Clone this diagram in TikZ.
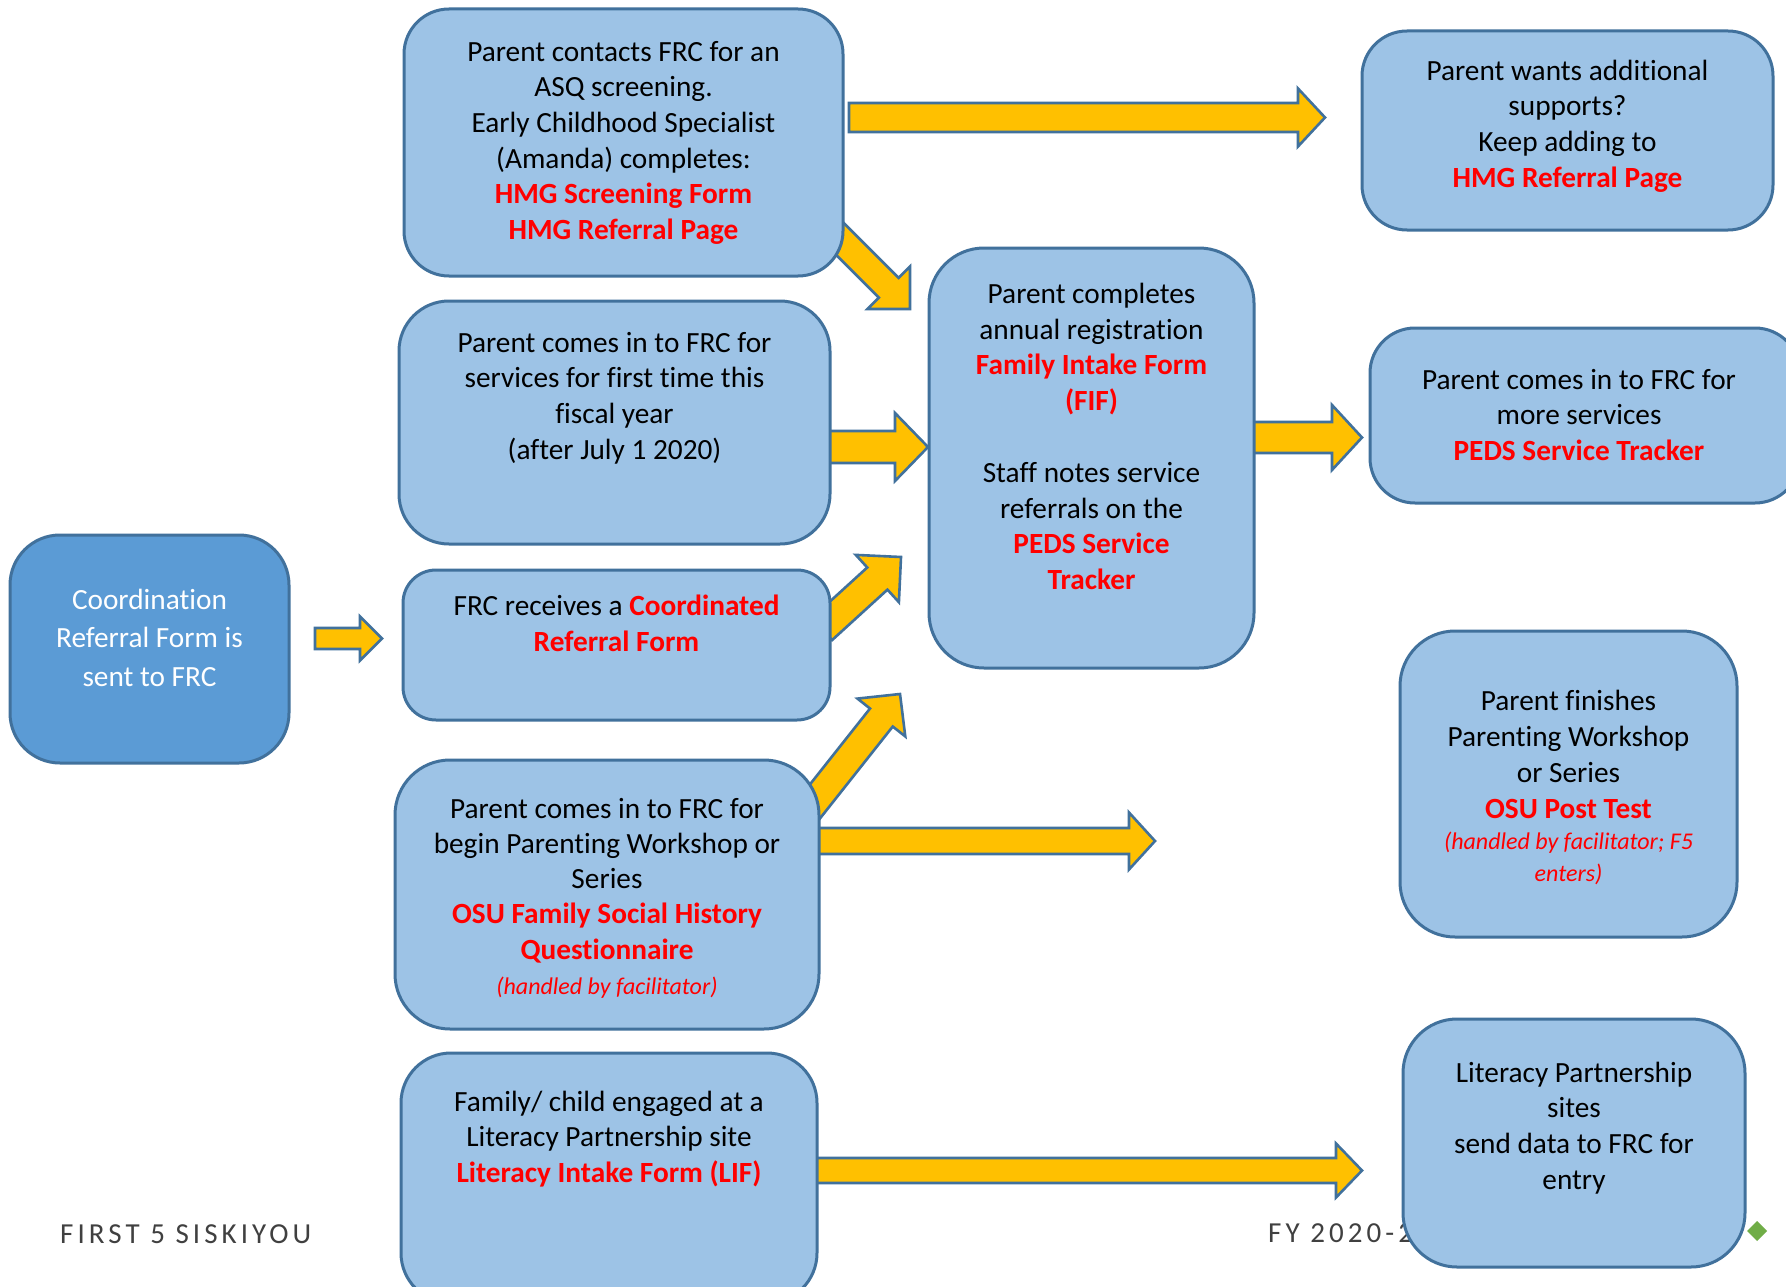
\documentclass[tikz,border=0pt]{standalone}
\usepackage{fontspec}
\setmainfont{Carlito}[Ligatures=NoCommon]
\usetikzlibrary{calc}
\definecolor{boxfill}{HTML}{9DC3E6}
\definecolor{boxdark}{HTML}{5B9BD5}
\definecolor{edgecol}{HTML}{41719C}
\definecolor{arrowfill}{HTML}{FFC000}
\definecolor{redtxt}{HTML}{FF0000}
\definecolor{footcol}{HTML}{404040}
\definecolor{diamcol}{HTML}{70AD47}
\newcommand\rd[1]{\textcolor{redtxt}{\bfseries #1}}
\newcommand\ri[1]{{\fontsize{24}{30}\selectfont\itshape\color{redtxt}#1}}
\newcommand\fst{\rule{0pt}{26pt}}
% block arrow: start, end, body half width, head half width, head length
\newcommand\barrow[5]{%
  \coordinate (hb) at ($(#2)!#5!(#1)$);
  \draw[yarrow] ($(#1)!#3!90:(#2)$) -- ($(hb)!#3!90:(#2)$) -- ($(hb)!#4!90:(#2)$)
    -- (#2) -- ($(hb)!#4!-90:(#2)$) -- ($(hb)!#3!-90:(#2)$) -- ($(#1)!#3!-90:(#2)$) -- cycle;
}
\tikzset{
  boxstyle/.style={draw=edgecol, fill=boxfill, line width=3pt, inner sep=0pt},
  darkbox/.style={draw=edgecol, fill=boxdark, line width=3pt, inner sep=0pt},
  yarrow/.style={draw=edgecol, fill=arrowfill, line width=2.6pt, line join=miter},
  txt/.style={anchor=north, align=center, inner sep=0pt, font=\fontsize{29.3}{35.6}\selectfont},
  foottxt/.style={anchor=base west, inner sep=0pt, text=footcol,
    font=\fontsize{29}{35}\selectfont\addfontfeatures{LetterSpace=14}}
}
\begin{document}
\begin{tikzpicture}[x=1pt,y=-1pt]
\clip (0,0) rectangle (1786,1287);
\fill[white] (0,0) rectangle (1786,1287);

% footer
\node[foottxt] (foot1) at (60,1243) {FIRST 5 SISKIYOU};
\node[foottxt] (foot2) at (1268,1242) {FY 2020-21};

% arrow end points
\coordinate (a1s) at (849,117.5);  \coordinate (a1e) at (1325,117.5);
\coordinate (a2s) at (830,229);    \coordinate (a2e) at (910,309);
\coordinate (a3s) at (825,447);    \coordinate (a3e) at (928,447);
\coordinate (a4s) at (822,629);    \coordinate (a4e) at (901,557);
\coordinate (a5s) at (315,638.5);  \coordinate (a5e) at (382,638.5);
\coordinate (a6s) at (805,814);    \coordinate (a6e) at (900,694);
\coordinate (a7s) at (815,841);    \coordinate (a7e) at (1155,841);
\coordinate (a8s) at (1247,437.5); \coordinate (a8e) at (1362,437.5);
\coordinate (a9s) at (812,1170.5); \coordinate (a9e) at (1362,1170.5);

\barrow{a1s}{a1e}{14.5pt}{29pt}{27pt}
\barrow{a2s}{a2e}{14pt}{30pt}{30pt}
\barrow{a3s}{a3e}{16pt}{34pt}{33pt}
\barrow{a4s}{a4e}{15pt}{32pt}{32pt}
\barrow{a5s}{a5e}{10.5pt}{22pt}{22pt}
\barrow{a6s}{a6e}{14.5pt}{30.5pt}{30pt}
\barrow{a7s}{a7e}{13pt}{28.5pt}{26pt}
\barrow{a8s}{a8e}{15.5pt}{32.5pt}{30pt}
\barrow{a9s}{a9e}{12.5pt}{27pt}{26pt}

% boxes
\node[boxstyle, minimum width=439pt, minimum height=267pt, rounded corners=45pt] (A) at (623.5,142.5) {};
\node[boxstyle, minimum width=431pt, minimum height=243pt, rounded corners=50pt] (B) at (614.5,422.5) {};
\node[boxstyle, minimum width=427pt, minimum height=150pt, rounded corners=33pt] (C) at (616.5,645) {};
\node[boxstyle, minimum width=424pt, minimum height=269pt, rounded corners=55pt] (D) at (607,894.5) {};
\node[boxstyle, minimum width=416pt, minimum height=250pt, rounded corners=50pt] (E) at (609,1178) {};
\node[darkbox, minimum width=279pt, minimum height=228pt, rounded corners=50pt] (L) at (149.5,649) {};
\node[boxstyle, minimum width=325pt, minimum height=420pt, rounded corners=55pt] (M) at (1091.5,458) {};
\node[boxstyle, minimum width=411pt, minimum height=199pt, rounded corners=45pt] (R1) at (1567.5,130.5) {};
\node[boxstyle, minimum width=430pt, minimum height=175pt, rounded corners=45pt] (R2) at (1585,415.5) {};
\node[boxstyle, minimum width=337pt, minimum height=306pt, rounded corners=55pt] (R3) at (1568.5,784) {};
\node[boxstyle, minimum width=342pt, minimum height=248pt, rounded corners=54pt] (R4) at (1574,1143) {};

% texts
\node[txt] (At) at (623.5,35) {\fst Parent contacts FRC for an\\ASQ screening.\\Early Childhood Specialist\\(Amanda) completes:\\\rd{HMG Screening Form}\\\rd{HMG Referral Page}};
\node[txt] (Bt) at (614.5,326) {\fst Parent comes in to FRC for\\services for first time this\\fiscal year\\(after July 1 2020)};
\node[txt, font=\fontsize{29.3}{36.5}\selectfont] (Ct) at (616.5,589) {\fst FRC receives a \rd{Coordinated}\\\rd{Referral Form}};
\node[txt, font=\fontsize{29.3}{38.5}\selectfont, text=white] (Lt) at (149.5,583) {\fst Coordination\\Referral Form is\\sent to FRC};
\node[txt, font=\fontsize{29.3}{35.8}\selectfont] (Mt) at (1091.5,277) {\fst Parent completes\\annual registration\\\rd{Family Intake Form}\\\rd{(FIF)}\\\fst\\Staff notes service\\referrals on the\\\rd{PEDS Service}\\\rd{Tracker}};
\node[txt] (R1t) at (1567.5,54) {\fst Parent wants additional\\supports?\\Keep adding to\\\rd{HMG Referral Page}};
\node[txt] (R2t) at (1579,363) {\fst Parent comes in to FRC for\\more services\\\rd{PEDS Service Tracker}};
\node[txt, font=\fontsize{29.3}{35.2}\selectfont] (Dt) at (607,792) {\fst Parent comes in to FRC for\\begin Parenting Workshop or\\Series\\\rd{OSU Family Social History}\\\rd{Questionnaire}\\\ri{(handled by facilitator)}};
\node[txt, font=\fontsize{29.3}{36}\selectfont] (R3t) at (1568.5,684) {\fst Parent finishes\\Parenting Workshop\\or Series\\\rd{OSU Post Test}\\[-5pt]\ri{(handled by facilitator; F5}\\[-4pt]\ri{enters)}};
\node[txt] (Et) at (609,1085) {\fst Family/ child engaged at a\\Literacy Partnership site\\\rd{Literacy Intake Form (LIF)}};
\node[txt] (R4t) at (1574,1056) {\fst Literacy Partnership\\sites\\send data to FRC for\\entry};

% decoration
\fill[diamcol] (1757,1221) -- (1767,1231) -- (1757,1241) -- (1747,1231) -- cycle;
\end{tikzpicture}
\end{document}
